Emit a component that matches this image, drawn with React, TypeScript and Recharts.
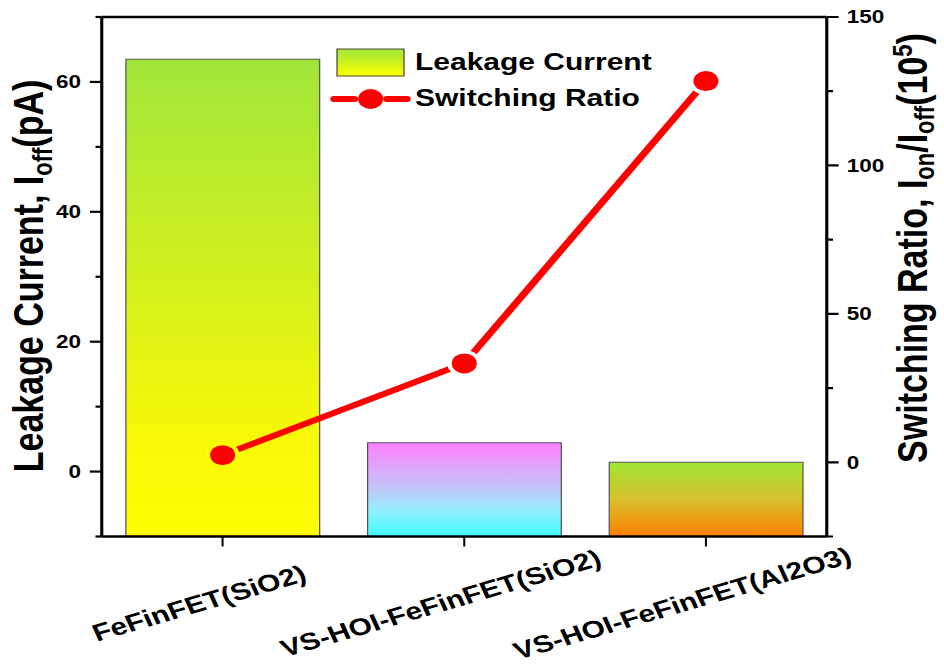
import React from 'react';
import { ComposedChart, Bar, Line, XAxis, YAxis, Cell, Legend, ReferenceLine } from 'recharts';

const categories = ['FeFinFET(SiO2)', 'VS-HOI-FeFinFET(SiO2)', 'VS-HOI-FeFinFET(Al2O3)'];
const leakageCurrent = [63.5, 4.45, 1.43];
const switchingRatio = [2.4, 33.3, 128.4];
const seriesNames = ['Leakage Current', 'Switching Ratio'];
const leftDomain = [-10, 70];
const rightDomain = [-25, 150];
const leftTicks = [-10, 0, 10, 20, 30, 40, 50, 60, 70];
const leftMajor = [0, 20, 40, 60];
const rightTicks = [-25, 0, 25, 50, 75, 100, 125, 150];
const rightMajor = [0, 50, 100, 150];

// Bars rise from the bottom of the axis (as in the original plot)
const data = categories.map((name, i) => ({
  name,
  leakage: [leftDomain[0], leakageCurrent[i]],
  ratio: switchingRatio[i],
}));

const FONT = '"Liberation Sans", Arial, sans-serif';
const STRETCH = 1.25;
const W = 755;
const H = 668;

const LeftTick = (props: any) => {
  const { x, y, payload } = props;
  const major = leftMajor.includes(payload.value);
  const len = major ? 9.5 : 5;
  return (
    <g>
      <line x1={x} y1={y} x2={x - len} y2={y} stroke="#000" strokeWidth={2.2} />
      {major && (
        <text x={x - 16.6} y={y} dy="0.36em" textAnchor="end" fontFamily={FONT} fontWeight="bold" fontSize={18} fill="#000">
          {payload.value}
        </text>
      )}
    </g>
  );
};

const RightTick = (props: any) => {
  const { x, y, payload } = props;
  const major = rightMajor.includes(payload.value);
  const len = major ? 9.5 : 5;
  return (
    <g>
      <line x1={x} y1={y} x2={x + len} y2={y} stroke="#000" strokeWidth={2.2} />
      {major && (
        <text x={x + 16} y={y} dy="0.36em" textAnchor="start" fontFamily={FONT} fontWeight="bold" fontSize={18} fill="#000">
          {payload.value}
        </text>
      )}
    </g>
  );
};

const BottomTick = (props: any) => {
  const { x, y, payload } = props;
  const cx = x - 16;
  const cy = y + 74.5;
  return (
    <g>
      <line x1={x} y1={y} x2={x} y2={y + 10} stroke="#000" strokeWidth={1.6} />
      <text x={cx} y={cy} textAnchor="middle" transform={`rotate(-20, ${cx}, ${cy})`} fontFamily={FONT} fontWeight="bold" fontSize={24} fill="#000">
        {payload.value}
      </text>
    </g>
  );
};

const LeftTitle = () => (
  <text x={34.4} y={276} textAnchor="middle" transform="rotate(-90, 34.4, 276)" fontFamily={FONT} fontWeight="bold" fontSize={34} fill="#000">
    Leakage Current, I
    <tspan fontSize={22} dy={7}>off</tspan>
    <tspan fontSize={34} dy={-7}>(pA)</tspan>
  </text>
);

const RightTitle = () => (
  <text x={741.5} y={248} textAnchor="middle" transform="rotate(-90, 741.5, 248)" fontFamily={FONT} fontWeight="bold" fontSize={34} fill="#000">
    Switching Ratio, I
    <tspan fontSize={22} dy={6}>on</tspan>
    <tspan fontSize={34} dy={-6}>/I</tspan>
    <tspan fontSize={22} dy={6}>off</tspan>
    <tspan fontSize={34} dy={-6}>(10</tspan>
    <tspan fontSize={22} dy={-12}>5</tspan>
    <tspan fontSize={34} dy={12}>)</tspan>
  </text>
);

const RatioDot = (props: any) => {
  const { cx, cy, index } = props;
  if (cx == null || cy == null) return null;
  const bg = index === 0 ? '#ffff00' : '#ffffff';
  return (
    <g key={`dot-${index}`}>
      <circle cx={cx} cy={cy} r={13.5} fill={bg} />
      <circle cx={cx} cy={cy} r={10} fill="#ff0000" />
    </g>
  );
};

const renderLegend = (props: any) => {
  const payload = props.payload || [];
  const barEntry = payload.find((p: any) => p.type === 'rect') || { value: seriesNames[0] };
  const lineEntry = payload.find((p: any) => p.type === 'line') || { value: seriesNames[1] };
  return (
    <svg width={240} height={80} style={{ overflow: 'visible' }}>
      <defs>
        <linearGradient id="legGrad" x1="0" y1="0" x2="0" y2="1">
          <stop offset="0" stopColor="#9fe63a" />
          <stop offset="1" stopColor="#ffff00" />
        </linearGradient>
      </defs>
      <rect x={9.6} y={9} width={53.6} height={27} fill="url(#legGrad)" stroke="#4a4a30" strokeWidth={1} />
      <text x={72} y={30} fontFamily={FONT} fontWeight="bold" fontSize={24} fill="#000">{barEntry.value}</text>
      <line x1={7.2} y1={59} x2={23.5} y2={59} stroke="#ff0000" strokeWidth={6} strokeLinecap="round" />
      <line x1={49.5} y1={59} x2={65.6} y2={59} stroke="#ff0000" strokeWidth={6} strokeLinecap="round" />
      <circle cx={36.5} cy={59} r={10} fill="#ff0000" />
      <text x={72} y={66} fontFamily={FONT} fontWeight="bold" fontSize={24} fill="#000">{lineEntry.value}</text>
    </svg>
  );
};

const barFills = ['url(#g0)', 'url(#g1)', 'url(#g2)'];

export default function App() {
  return (
    <div style={{ position: 'absolute', left: 0, top: 0, width: W, height: H, transform: `scaleX(${STRETCH})`, transformOrigin: '0 0', background: '#fff' }}>
      <ComposedChart width={W} height={H} data={data} margin={{ top: 17, right: 33.6, bottom: 31.5, left: 21.4 }} barCategoryGap="10%">
        <defs>
          <linearGradient id="g0" x1="0" y1="0" x2="0" y2="1">
            <stop offset="0" stopColor="#9fe63a" />
            <stop offset="0.78" stopColor="#f6f808" />
            <stop offset="1" stopColor="#ffff00" />
          </linearGradient>
          <linearGradient id="g1" x1="0" y1="0" x2="0" y2="1">
            <stop offset="0" stopColor="#ff80ff" />
            <stop offset="0.45" stopColor="#c8c0f8" />
            <stop offset="0.7" stopColor="#98ecfc" />
            <stop offset="1" stopColor="#40ffff" />
          </linearGradient>
          <linearGradient id="g2" x1="0" y1="0" x2="0" y2="1">
            <stop offset="0" stopColor="#a0e632" />
            <stop offset="0.5" stopColor="#d8c02c" />
            <stop offset="1" stopColor="#ff8000" />
          </linearGradient>
        </defs>
        <XAxis
          dataKey="name"
          type="category"
          interval={0}
          height={100}
          tickSize={0}
          tickMargin={0}
          tickLine={false}
          axisLine={{ stroke: '#000', strokeWidth: 2.5 }}
          tick={<BottomTick />}
        />
        <YAxis
          yAxisId="left"
          orientation="left"
          type="number"
          domain={leftDomain}
          ticks={leftTicks}
          allowDataOverflow
          width={60}
          tickSize={0}
          tickMargin={0}
          tickLine={false}
          axisLine={{ stroke: '#000', strokeWidth: 2.5 }}
          tick={<LeftTick />}
          label={{ content: () => <LeftTitle /> }}
        />
        <YAxis
          yAxisId="right"
          orientation="right"
          type="number"
          domain={rightDomain}
          ticks={rightTicks}
          allowDataOverflow
          width={60}
          tickSize={0}
          tickMargin={0}
          tickLine={false}
          axisLine={{ stroke: '#000', strokeWidth: 2.5 }}
          tick={<RightTick />}
          label={{ content: () => <RightTitle /> }}
        />
        <ReferenceLine yAxisId="left" y={leftDomain[1]} stroke="#000" strokeWidth={2.5} />
        <Legend
          content={renderLegend}
          layout="horizontal"
          verticalAlign="middle"
          align="center"
          wrapperStyle={{ left: 260, top: 40, width: 240, height: 80 }}
        />
        <Bar yAxisId="left" dataKey="leakage" name={seriesNames[0]} stroke="#555" strokeWidth={1} isAnimationActive={false} legendType="rect">
          {data.map((d, i) => (
            <Cell key={d.name} fill={barFills[i]} />
          ))}
        </Bar>
        <Line
          yAxisId="right"
          type="linear"
          dataKey="ratio"
          name={seriesNames[1]}
          stroke="#ff0000"
          strokeWidth={6}
          dot={<RatioDot />}
          activeDot={false}
          isAnimationActive={false}
          legendType="line"
        />
      </ComposedChart>
    </div>
  );
}
